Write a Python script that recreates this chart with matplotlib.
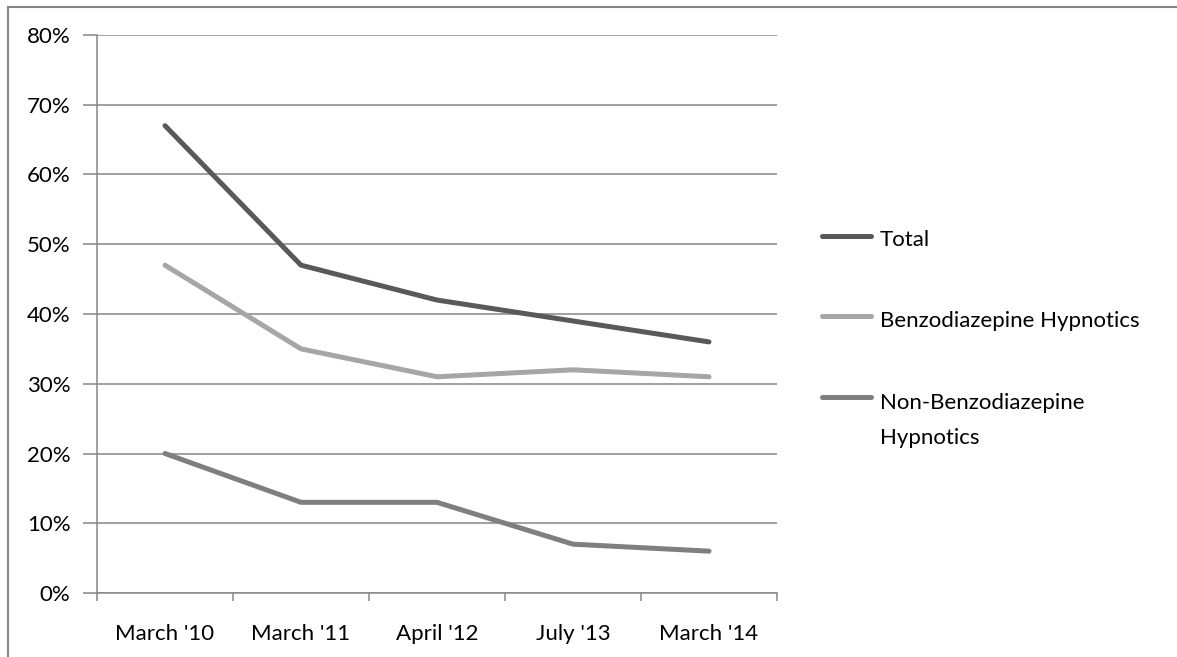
import matplotlib
matplotlib.use("Agg")
import matplotlib.pyplot as plt
from matplotlib.lines import Line2D
from matplotlib.ticker import FixedLocator, PercentFormatter

plt.rcParams['font.family'] = ['Lato', 'DejaVu Sans']

categories = ["March '10", "March '11", "April '12", "July '13", "March '14"]
total = [67, 47, 42, 39, 36]
benzo = [47, 35, 31, 32, 31]
non_benzo = [20, 13, 13, 7, 6]

series = [
    ("Total", total, "#595959"),
    ("Benzodiazepine Hypnotics", benzo, "#a6a6a6"),
    ("Non-Benzodiazepine\nHypnotics", non_benzo, "#7f7f7f"),
]

FS = 16
W, H = 1177, 657
fig = plt.figure(figsize=(W / 100, H / 100), dpi=100)
ax = fig.add_axes([97 / W, (H - 593) / H, 680 / W, 558 / H])

x = list(range(len(categories)))
for name, vals, col in series:
    ax.plot(x, vals, color=col, lw=3.6, solid_capstyle='round', solid_joinstyle='round', zorder=3)

ax.set_xlim(-0.5, len(categories) - 0.5)
ax.set_ylim(0, 80)
ax.set_yticks(range(0, 81, 10))
ax.yaxis.set_major_formatter(PercentFormatter(decimals=0))
ax.grid(axis='y', color='#868686', lw=1.1, zorder=1)

ax.set_xticks(x)
ax.set_xticklabels(categories)
ax.xaxis.set_minor_locator(FixedLocator([i - 0.5 for i in range(len(categories) + 1)]))
ax.tick_params(axis='x', which='major', length=0, pad=22, labelsize=FS, colors='black')
ax.tick_params(axis='x', which='minor', length=6, width=1.1, color='#868686', direction='out')
ax.tick_params(axis='y', length=10, width=1.1, color='#868686', pad=9, labelsize=FS)

for s in ('top', 'right'):
    ax.spines[s].set_visible(False)
for s in ('left', 'bottom'):
    ax.spines[s].set_color('#868686')
    ax.spines[s].set_linewidth(1.1)

# Legend drawn with handles aligned to the first line of each label
handle_y = [236, 316, 397]
baseline_y = [246, 327, 409]
for (name, vals, col), hy, by in zip(series, handle_y, baseline_y):
    yy = 1 - hy / H
    fig.add_artist(Line2D([822 / W, 871 / W], [yy, yy], color=col, lw=3.6,
                          solid_capstyle='round', transform=fig.transFigure))
    first, *rest = name.split("\n")
    fig.text(880 / W, 1 - by / H, first, ha='left', va='baseline', fontsize=FS)
    for k, line in enumerate(rest, start=1):
        fig.text(880 / W, 1 - (by + 35 * k) / H, line, ha='left', va='baseline', fontsize=FS)

# Outer frame (top and left edges)
fig.add_artist(Line2D([8 / W, 1], [1 - 7 / H, 1 - 7 / H], color='#868686', lw=1.5,
                      transform=fig.transFigure))
fig.add_artist(Line2D([8 / W, 8 / W], [0, 1 - 7 / H], color='#868686', lw=1.5,
                      transform=fig.transFigure))

fig.savefig("out.png", dpi=100)
